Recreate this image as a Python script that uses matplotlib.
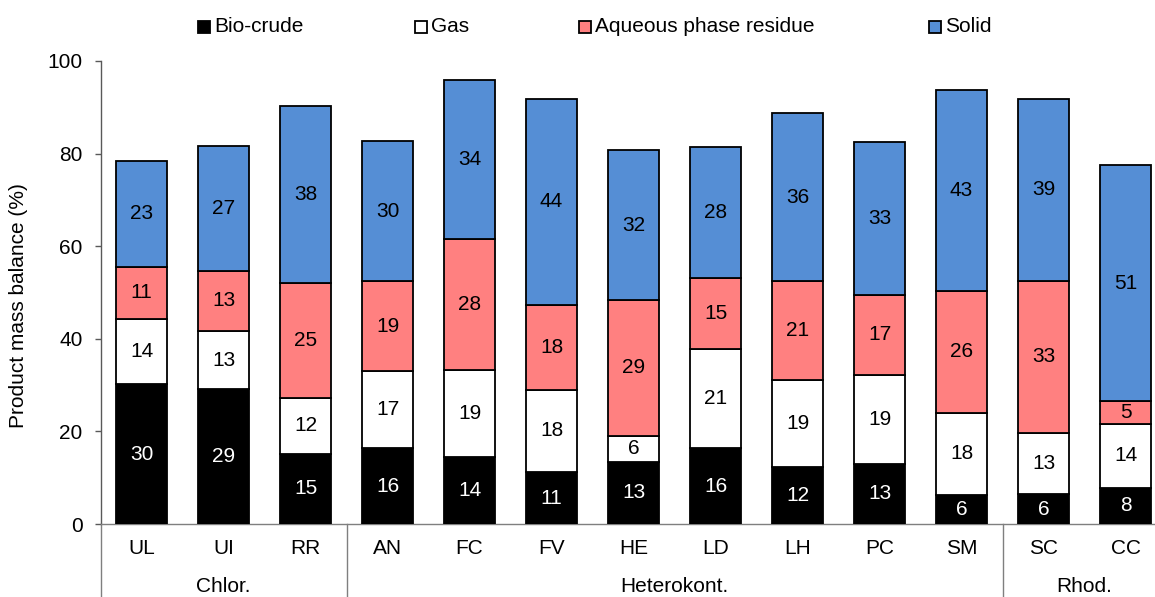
import numpy as np
import matplotlib
matplotlib.use("Agg")
from matplotlib import pyplot as plt
from matplotlib.patches import Rectangle

plt.rcParams['font.family'] = ['Liberation Sans', 'DejaVu Sans']

# Species and their groups
species = ['UL', 'UI', 'RR', 'AN', 'FC', 'FV', 'HE', 'LD', 'LH', 'PC', 'SM', 'SC', 'CC']
groups = ['Chlor.', 'Heterokont.', 'Rhod.']
group_sizes = [3, 8, 2]

# Product fractions (%)
biocrude = [30.2, 29.1, 15.2, 16.4, 14.4, 11.2, 13.4, 16.4, 12.4, 13.0, 6.3, 6.4, 7.8]
gas = [14.0, 12.6, 12.1, 16.6, 18.9, 17.8, 5.6, 21.4, 18.6, 19.2, 17.7, 13.3, 13.8]
aqueous = [11.4, 13.0, 24.8, 19.4, 28.2, 18.4, 29.4, 15.3, 21.4, 17.3, 26.4, 32.8, 5.0]
solid = [22.9, 27.0, 38.2, 30.3, 34.3, 44.4, 32.3, 28.3, 36.4, 32.9, 43.4, 39.4, 50.9]

series = [
    ('Bio-crude', biocrude, '#000000', 'white'),
    ('Gas', gas, '#FFFFFF', 'black'),
    ('Aqueous phase residue', aqueous, '#FF8080', 'black'),
    ('Solid', solid, '#558ED5', 'black'),
]

W, H = 1155, 597
fig = plt.figure(figsize=(W / 100, H / 100), dpi=100)
ax = fig.add_axes([100.5 / W, (H - 524) / H, 1066 / W, 463 / H])

x = np.arange(len(species))
bottom = np.zeros(len(species))
for name, vals, color, txtcolor in series:
    vals = np.array(vals)
    ax.bar(x, vals, 0.62, bottom=bottom, color=color, edgecolor='black',
           linewidth=1.3, zorder=3)
    for xi, b, v in zip(x, bottom, vals):
        ax.text(xi, b + v / 2, f'{v:.0f}', ha='center', va='center',
                fontsize=15, color=txtcolor, zorder=4)
    bottom += vals

ax.set_xlim(-0.5, 12.5)
ax.set_ylim(0, 100)
ax.set_yticks(np.arange(0, 101, 20))
ax.tick_params(axis='y', length=4.5, width=1, color='#595959', labelsize=15, pad=8.5)
ax.set_xticks([])
for s in ['top', 'right']:
    ax.spines[s].set_visible(False)
ax.spines['left'].set_color('#595959')
ax.spines['bottom'].set_color('#7f7f7f')
ax.spines['left'].set_linewidth(1)
ax.spines['bottom'].set_linewidth(1)

# two-level category axis
tr = ax.get_xaxis_transform()
for xi, s in zip(x, species):
    ax.text(xi, -25 / 463, s, transform=tr, ha='center', va='center', fontsize=15)
edges = np.concatenate([[0], np.cumsum(group_sizes)]) - 0.5
for g, lo, hi in zip(groups, edges[:-1], edges[1:]):
    ax.text((lo + hi) / 2, -63 / 463, g, transform=tr, ha='center', va='center', fontsize=15)
for e in edges[:-1]:
    ax.plot([e, e], [0, -0.2], transform=tr, color='#7f7f7f', lw=1, clip_on=False)

ax.set_ylabel('Product mass balance (%)', fontsize=15)
ax.yaxis.set_label_coords(28 / W, (H - 306) / H, transform=fig.transFigure)

# legend row
leg_x = [198, 415, 579, 929]
for (name, vals, color, _), lx in zip(series, leg_x):
    fig.patches.append(Rectangle((lx / W, (H - 32.5) / H), 12 / W, 12 / H,
                                 transform=fig.transFigure, facecolor=color,
                                 edgecolor='black', linewidth=1.3))
    fig.text((lx + 16) / W, (H - 26.5) / H, name, fontsize=15, ha='left', va='center')

fig.savefig('out.png', dpi=100)
